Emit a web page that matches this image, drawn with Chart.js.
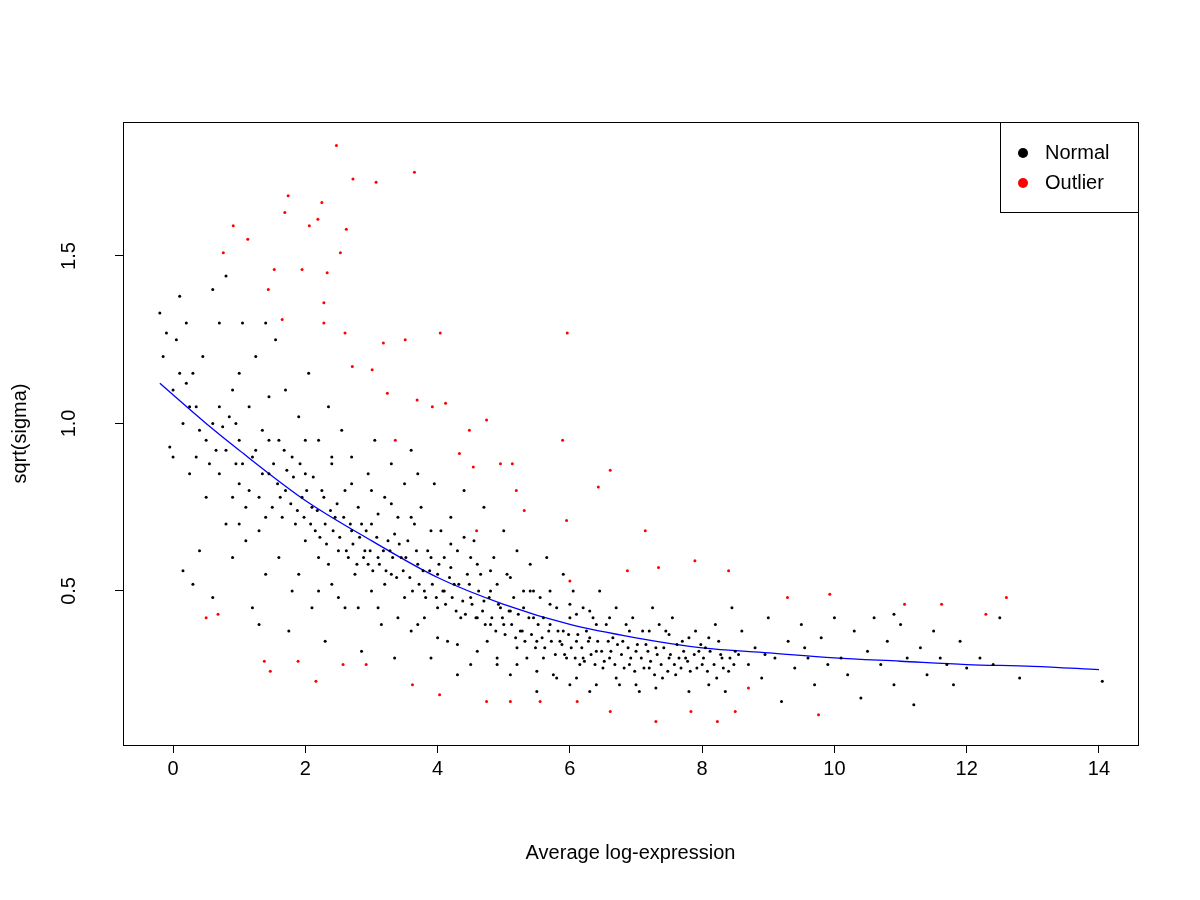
<!DOCTYPE html>
<html>
<head>
<script src="https://cdn.jsdelivr.net/npm/chart.js@4/dist/chart.umd.min.js"></script>
<style>body{margin:0;background:#fff}#wrap{width:1200px;height:900px}</style>
</head>
<body>
<div id="wrap"><canvas id="c"></canvas></div>
<script>
const xTicks = [0, 2, 4, 6, 8, 10, 12, 14];
const yTicks = [0.5, 1.0, 1.5];

// trend line (lowess fit)
const trendX = [-0.2, 0.5, 1, 2, 3, 4, 5, 6, 7, 8, 9, 10, 11, 12, 13, 14];
const trendY = [1.12, 1.0, 0.92, 0.77, 0.65, 0.54, 0.46, 0.40, 0.36, 0.33, 0.315, 0.30, 0.29, 0.28, 0.275, 0.265];

// outliers (red)
const outlierPts = [[2.47,1.83],[2.72,1.73],[3.07,1.72],[3.65,1.75],[1.74,1.68],[1.69,1.63],[0.91,1.59],[0.76,1.51],[1.13,1.55],[2.06,1.59],[2.25,1.66],[2.19,1.61],[2.62,1.58],[2.53,1.51],[1.53,1.46],[1.44,1.40],[1.95,1.46],[2.33,1.45],[2.28,1.36],[1.65,1.31],[2.28,1.30],[2.6,1.27],[4.04,1.27],[5.96,1.27],[3.18,1.24],[3.51,1.25],[2.71,1.17],[3.01,1.16],[3.24,1.09],[3.69,1.07],[3.92,1.05],[4.12,1.06],[3.36,0.95],[4.74,1.01],[4.48,0.98],[5.89,0.95],[4.33,0.91],[4.95,0.88],[5.13,0.88],[4.54,0.87],[6.61,0.86],[5.19,0.8],[6.43,0.81],[5.31,0.74],[5.95,0.71],[7.14,0.68],[4.59,0.68],[6.0,0.53],[6.87,0.56],[7.34,0.57],[7.89,0.59],[8.4,0.56],[9.29,0.48],[9.93,0.49],[11.06,0.46],[11.62,0.46],[12.29,0.43],[12.6,0.48],[0.5,0.42],[0.68,0.43],[1.38,0.29],[1.47,0.26],[1.89,0.29],[2.16,0.23],[2.57,0.28],[2.92,0.28],[3.62,0.22],[4.03,0.19],[4.74,0.17],[5.1,0.17],[5.55,0.17],[6.11,0.17],[6.61,0.14],[7.3,0.11],[7.83,0.14],[8.23,0.11],[8.5,0.14],[9.76,0.13],[8.7,0.21]];

// normal genes (black), a representative sample of the cloud
const normalPts = [[-0.2,1.33],[-0.15,1.2],[-0.1,1.27],[-0.05,0.93],[0,1.1],[0.05,1.25],[0.1,1.38],[0.15,1.0],[0.2,1.3],[0.25,0.85],[0.3,1.15],[0.35,1.05],[0.4,0.62],[0.45,1.2],[0.5,0.95],[0.5,0.78],[0.15,0.56],[0.3,0.52],[0.0,0.9],[0.2,1.12],
[0.6,1.4],[0.6,0.48],[0.7,1.3],[0.7,0.85],[0.8,1.44],[0.8,0.7],[0.9,1.1],[0.9,0.6],[1.0,0.95],[1.0,0.82],[1.05,1.3],[1.1,0.75],[1.15,1.05],[1.2,0.9],[1.2,0.45],[1.25,1.2],[1.3,0.68],[1.35,0.98],[1.4,0.55],[1.4,1.3],[1.45,0.85],[1.5,0.75],[0.75,0.99],[0.95,0.88],[1.1,0.65],[1.3,0.4],[0.65,0.92],[0.85,1.02],[1.0,1.15],[1.45,1.08],
[1.55,1.25],[1.6,0.95],[1.6,0.6],[1.7,1.1],[1.7,0.8],[1.75,0.38],[1.8,0.9],[1.85,0.7],[1.9,1.02],[1.9,0.55],[2.0,0.85],[2.0,0.65],[2.05,1.15],[2.1,0.75],[2.1,0.45],[2.2,0.95],[2.2,0.6],[2.25,0.8],[2.3,0.7],[2.3,0.35],[2.35,1.05],[2.4,0.88],[2.4,0.52],[2.45,0.72],[2.5,0.62],[1.65,0.72],[1.8,0.5],[1.95,0.78],[2.15,0.68],[2.35,0.58],
[2.55,0.98],[2.6,0.8],[2.6,0.45],[2.7,0.68],[2.7,0.9],[2.75,0.55],[2.8,0.75],[2.85,0.32],[2.9,0.62],[2.95,0.85],[3.0,0.7],[3.0,0.5],[3.05,0.95],[3.1,0.6],[3.15,0.4],[3.2,0.78],[3.25,0.65],[3.3,0.55],[3.3,0.88],[3.35,0.3],[3.4,0.72],[3.45,0.6],[3.5,0.48],[3.5,0.82],[2.65,0.6],[2.85,0.7],[3.1,0.73],[3.35,0.67],[2.95,0.58],[3.2,0.52],
[3.55,0.65],[3.6,0.92],[3.6,0.38],[3.7,0.58],[3.75,0.75],[3.8,0.5],[3.85,0.62],[3.9,0.3],[3.95,0.82],[4.0,0.55],[4.0,0.45],[4.05,0.68],[4.1,0.6],[4.15,0.35],[4.2,0.72],[4.25,0.52],[4.3,0.62],[4.35,0.42],[4.4,0.8],[4.45,0.55],[4.5,0.48],[4.5,0.28],[3.65,0.7],[3.9,0.6],[4.2,0.57],[4.4,0.66],[3.8,0.42],[4.1,0.5],[4.3,0.25],[3.7,0.85],
[4.55,0.65],[4.6,0.42],[4.65,0.55],[4.7,0.75],[4.75,0.35],[4.8,0.5],[4.85,0.6],[4.9,0.3],[4.95,0.45],[5.0,0.68],[5.0,0.4],[5.05,0.55],[5.1,0.25],[5.15,0.48],[5.2,0.62],[5.25,0.38],[5.3,0.5],[5.35,0.3],[5.4,0.58],[5.45,0.42],[5.5,0.35],[5.5,0.2],[4.7,0.47],[4.9,0.52],[5.1,0.44],[5.3,0.45],[4.6,0.58],[5.2,0.33],[5.45,0.5],[4.8,0.4],
[5.55,0.48],[5.6,0.3],[5.65,0.6],[5.7,0.4],[5.75,0.25],[5.8,0.45],[5.85,0.35],[5.9,0.55],[5.95,0.3],[6.0,0.42],[6.0,0.22],[6.05,0.5],[6.1,0.35],[6.15,0.28],[6.2,0.45],[6.25,0.38],[6.3,0.2],[6.35,0.42],[6.4,0.32],[6.45,0.5],[6.5,0.27],[5.7,0.5],[5.9,0.38],[6.1,0.43],[6.3,0.36],[5.6,0.42],[6.2,0.3],[6.4,0.4],
[6.55,0.4],[6.6,0.3],[6.7,0.45],[6.75,0.22],[6.8,0.35],[6.9,0.28],[6.95,0.42],[7.0,0.32],[7.05,0.2],[7.1,0.38],[7.2,0.27],[7.25,0.45],[7.3,0.33],[7.4,0.24],[7.45,0.38],[7.5,0.3],[6.65,0.36],[6.85,0.4],[7.15,0.34],[7.35,0.4],
[7.55,0.42],[7.6,0.25],[7.7,0.35],[7.75,0.3],[7.8,0.2],[7.9,0.38],[8.0,0.28],[8.05,0.33],[8.1,0.22],[8.2,0.4],[8.3,0.3],[8.4,0.26],[8.45,0.45],[8.5,0.32],[7.65,0.3],[7.95,0.32],[8.25,0.35],[8.35,0.2],
[8.6,0.38],[8.7,0.28],[8.8,0.33],[8.9,0.24],[9.0,0.42],[9.1,0.3],[9.2,0.17],[9.3,0.35],[9.4,0.27],[9.5,0.4],[9.6,0.3],[9.7,0.22],[9.8,0.36],[9.9,0.28],[10.0,0.42],[8.95,0.31],[9.55,0.33],
[10.1,0.3],[10.2,0.25],[10.3,0.38],[10.4,0.18],[10.5,0.32],[10.6,0.42],[10.7,0.28],[10.8,0.35],[10.9,0.22],[11.0,0.4],[11.1,0.3],[11.2,0.16],[11.3,0.33],[11.4,0.25],[11.5,0.38],[11.6,0.3],[11.7,0.28],[11.8,0.22],[11.9,0.35],[12.0,0.27],[12.2,0.3],[12.4,0.28],[12.5,0.42],[12.8,0.24],[14.05,0.23],[10.9,0.43]];

// denser core of the normal cloud, around the trend
const normalCore = [[1.52,0.88],[1.58,0.82],[1.62,0.78],[1.68,0.92],[1.72,0.86],[1.78,0.76],[1.82,0.84],[1.88,0.74],[1.92,0.88],[1.98,0.72],[2.02,0.8],[2.08,0.7],[2.12,0.84],[2.18,0.74],[2.22,0.66],[2.28,0.78],[2.32,0.64],[2.38,0.74],[2.42,0.68],[2.48,0.76],
[2.52,0.66],[2.58,0.72],[2.62,0.62],[2.68,0.7],[2.72,0.64],[2.78,0.58],[2.82,0.66],[2.88,0.6],[2.92,0.68],[2.98,0.62],[3.02,0.56],[3.08,0.66],[3.12,0.58],[3.18,0.62],[3.22,0.56],[3.28,0.62],[3.32,0.6],[3.38,0.54],[3.42,0.64],[3.48,0.56],
[3.52,0.6],[3.58,0.54],[3.62,0.5],[3.68,0.62],[3.72,0.52],[3.78,0.56],[3.82,0.48],[3.88,0.56],[3.92,0.52],[3.98,0.48],[4.02,0.58],[4.08,0.5],[4.12,0.46],[4.18,0.54],[4.22,0.48],[4.28,0.44],[4.32,0.52],[4.38,0.47],[4.42,0.43],[4.48,0.52],
[4.52,0.46],[4.58,0.42],[4.62,0.5],[4.68,0.44],[4.72,0.4],[4.78,0.48],[4.82,0.42],[4.88,0.38],[4.92,0.46],[4.98,0.42],[5.02,0.37],[5.08,0.44],[5.12,0.4],[5.18,0.36],[5.22,0.43],[5.28,0.38],[5.32,0.35],[5.38,0.42],[5.42,0.37],[5.48,0.33],
[5.52,0.4],[5.58,0.36],[5.62,0.33],[5.68,0.38],[5.72,0.35],[5.78,0.31],[5.82,0.38],[5.88,0.34],[5.92,0.31],[5.98,0.37],[6.02,0.33],[6.08,0.3],[6.12,0.37],[6.18,0.33],[6.22,0.29],[6.28,0.35],[6.32,0.31],[6.38,0.28],[6.42,0.35],[6.48,0.32],
[6.52,0.29],[6.58,0.35],[6.62,0.32],[6.68,0.28],[6.72,0.34],[6.78,0.31],[6.82,0.27],[6.88,0.33],[6.92,0.3],[6.98,0.26],[7.02,0.34],[7.08,0.3],[7.12,0.27],[7.18,0.32],[7.22,0.29],[7.28,0.25],[7.32,0.31],[7.38,0.28],[7.42,0.33],[7.48,0.26],
[7.52,0.31],[7.58,0.28],[7.62,0.34],[7.68,0.27],[7.72,0.32],[7.78,0.29],[7.82,0.26],[7.88,0.31],[7.92,0.27],[7.98,0.34],[8.02,0.3],[8.08,0.26],[8.12,0.32],[8.18,0.28],[8.22,0.24],[8.28,0.31],[8.32,0.27],[8.42,0.3],[8.48,0.28],[8.55,0.31],
[1.0,0.7],[1.05,0.88],[1.15,0.8],[1.25,0.92],[1.3,0.78],[1.35,0.85],[1.4,0.72],[1.45,0.95],[0.8,0.92],[0.9,0.78],[0.95,1.0],[0.7,1.05],[0.6,1.0],[0.55,0.88],[0.4,0.98],[0.35,0.9],[0.1,1.15],[0.25,1.05],
[2.2,0.5],[2.5,0.48],[2.8,0.45],[3.1,0.45],[3.4,0.42],[3.7,0.4],[4.0,0.36],[4.3,0.34],[4.6,0.32],[4.9,0.28],[5.2,0.28],[5.5,0.26],[5.8,0.24],[6.1,0.24],[6.4,0.22],[6.7,0.24],[7.0,0.22],[7.3,0.21],
[2.0,0.95],[2.4,0.9],[2.7,0.82],[3.0,0.8],[3.3,0.76],[3.6,0.72],[3.9,0.68],[4.2,0.64],[4.5,0.6],[4.8,0.56],[5.1,0.54],[5.4,0.5],[5.7,0.46],[6.0,0.46],[6.3,0.44],[6.6,0.42],[6.9,0.38],[7.2,0.38],[7.5,0.37],[7.8,0.36],[8.1,0.36]];

const FONT = '"Liberation Sans", Arial, sans-serif';
const toXY = pts => pts.map(p => ({x: p[0], y: p[1]}));

// box, rotated y labels, axis titles, legend
const rDecor = {
  id: 'rDecor',
  afterDraw(chart) {
    const {ctx, chartArea: a, scales} = chart;
    ctx.save();
    ctx.strokeStyle = '#000';
    ctx.lineWidth = 1;
    ctx.strokeRect(a.left + 0.5, a.top + 0.5, a.right - a.left, a.bottom - a.top);
    ctx.fillStyle = '#000';
    ctx.font = '20px ' + FONT;
    // y tick labels, rotated like R
    yTicks.forEach(v => {
      const py = scales.y.getPixelForValue(v);
      ctx.save();
      ctx.translate(a.left - 54, py);
      ctx.rotate(-Math.PI / 2);
      ctx.textAlign = 'center';
      ctx.textBaseline = 'middle';
      ctx.fillText(v.toFixed(1), 0, 0);
      ctx.restore();
    });
    ctx.save();
    ctx.translate(20, (a.top + a.bottom) / 2);
    ctx.rotate(-Math.PI / 2);
    ctx.textAlign = 'center';
    ctx.textBaseline = 'middle';
    ctx.fillText('sqrt(sigma)', 0, 0);
    ctx.restore();
    ctx.textAlign = 'center';
    ctx.textBaseline = 'middle';
    ctx.fillText('Average log-expression', (a.left + a.right) / 2, 853);
    // legend
    const lw = 138, lh = 90, lx = a.right - lw, ly = a.top;
    ctx.strokeRect(lx + 0.5, ly + 0.5, lw, lh);
    const items = [['Normal', '#000'], ['Outlier', '#ff0000']];
    items.forEach((it, i) => {
      const cy = ly + 31 + i * 30;
      ctx.fillStyle = it[1];
      ctx.beginPath();
      ctx.arc(lx + 23, cy, 5, 0, Math.PI * 2);
      ctx.fill();
      ctx.fillStyle = '#000';
      ctx.textAlign = 'left';
      ctx.fillText(it[0], lx + 45, cy);
    });
    ctx.restore();
  }
};

new Chart(document.getElementById('c'), {
  type: 'scatter',
  data: {
    datasets: [
      {label: 'Normal', data: toXY(normalPts.concat(normalCore)), backgroundColor: '#000', borderWidth: 0, pointRadius: 1.5},
      {label: 'Outlier', data: toXY(outlierPts), backgroundColor: '#ff0000', borderWidth: 0, pointRadius: 1.5},
      {label: 'trend', type: 'line', data: trendX.map((x, i) => ({x, y: trendY[i]})),
       borderColor: '#0000ff', borderWidth: 1.3, pointRadius: 0, cubicInterpolationMode: 'monotone', fill: false}
    ]
  },
  options: {
    responsive: true,
    maintainAspectRatio: false,
    animation: false,
    layout: {padding: {top: 122, right: 62, left: 0, bottom: 0}},
    plugins: {legend: {display: false}, tooltip: {enabled: false}},
    scales: {
      x: {
        type: 'linear', min: -0.757, max: 14.59,
        afterBuildTicks: s => { s.ticks = xTicks.map(v => ({value: v})); },
        afterFit: s => { s.height = 155; },
        grid: {drawOnChartArea: false, tickLength: 8, color: '#000'},
        border: {display: false},
        ticks: {color: '#000', font: {size: 20, family: FONT}, padding: 4, maxRotation: 0}
      },
      y: {
        min: 0.04, max: 1.9,
        afterBuildTicks: s => { s.ticks = yTicks.map(v => ({value: v})); },
        afterFit: s => { s.width = 123; },
        grid: {drawOnChartArea: false, tickLength: 8, color: '#000'},
        border: {display: false},
        ticks: {display: false}
      }
    }
  },
  plugins: [rDecor]
});
</script>
</body>
</html>
